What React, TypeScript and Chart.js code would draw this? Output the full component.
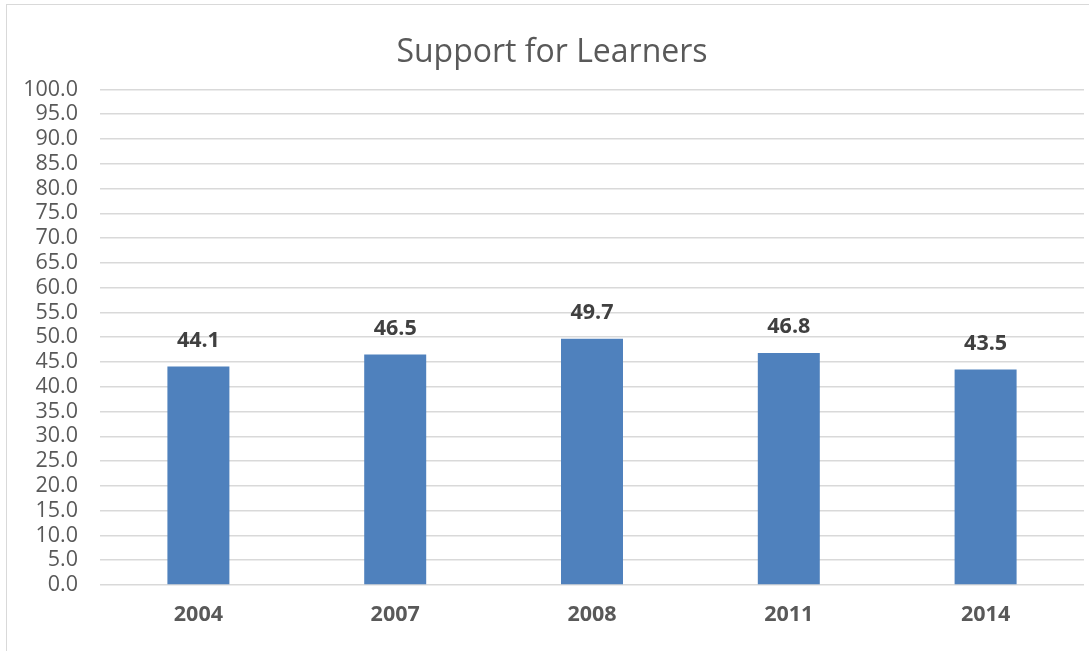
import React, { useEffect, useRef } from "react";
import { Chart, registerables } from "chart.js";

Chart.register(...registerables);

const categories = ["2004", "2007", "2008", "2011", "2014"];
const values = [44.1, 46.5, 49.7, 46.8, 43.5];
const yTickMin = 0;
const yTickMax = 100;
const yTickStep = 5;
const titleText = "Support for Learners";

const FONT = "'Open Sans', 'Liberation Sans', sans-serif";

const dataLabelPlugin = {
  id: "dataLabels",
  afterDatasetsDraw(chart: any) {
    const ctx = chart.ctx;
    const meta = chart.getDatasetMeta(0);
    ctx.save();
    ctx.font = `bold 21.5px ${FONT}`;
    ctx.fillStyle = "#404040";
    ctx.textAlign = "center";
    ctx.textBaseline = "middle";
    meta.data.forEach((bar: any, i: number) => {
      ctx.fillText(values[i].toFixed(1), bar.x, bar.y - 26);
    });
    ctx.restore();
  },
};

export default function App() {
  const ref = useRef<HTMLCanvasElement | null>(null);
  useEffect(() => {
    if (!ref.current) return;
    const chart = new Chart(ref.current, {
      type: "bar",
      data: {
        labels: categories,
        datasets: [
          {
            data: values,
            backgroundColor: "#4F81BD",
            borderWidth: 0,
            barPercentage: 0.315,
            categoryPercentage: 1,
          },
        ],
      },
      options: {
        animation: false,
        responsive: false,
        maintainAspectRatio: false,
        layout: { padding: { left: 20, right: 5, top: 0, bottom: 0 } },
        plugins: {
          legend: { display: false },
          tooltip: { enabled: false },
          title: {
            display: true,
            text: titleText,
            color: "#595959",
            font: { family: FONT, size: 32, weight: "normal", lineHeight: 1.2 },
            padding: { top: 34, bottom: 17 },
          },
        },
        scales: {
          x: {
            grid: { display: false, drawTicks: false },
            border: { display: false },
            ticks: {
              color: "#595959",
              font: { family: FONT, size: 21.5, weight: "bold" },
              padding: 17,
            },
            afterFit(scale: any) {
              scale.height = 66;
            },
          },
          y: {
            min: yTickMin,
            max: yTickMax,
            grid: { color: "#D9D9D9", lineWidth: 1.5, drawTicks: false },
            border: { display: false },
            ticks: {
              stepSize: yTickStep,
              autoSkip: false,
              color: "#595959",
              font: { family: FONT, size: 21.5, lineHeight: 1 },
              padding: 22,
              callback: (v: any) => Number(v).toFixed(1),
            },
            afterFit(scale: any) {
              scale.width = 80;
            },
          },
        },
      },
      plugins: [dataLabelPlugin],
    });
    return () => chart.destroy();
  }, []);

  return (
    <div style={{ position: "absolute", left: 0, top: 0, width: 1089, height: 651, overflow: "hidden", background: "#fff" }}>
      <div
        style={{
          position: "absolute",
          left: 6,
          top: 4,
          width: 1090,
          height: 660,
          border: "1.5px solid #D9D9D9",
        }}
      />
      <canvas ref={ref} width={1089} height={651} style={{ position: "absolute", left: 0, top: 0 }} />
    </div>
  );
}
